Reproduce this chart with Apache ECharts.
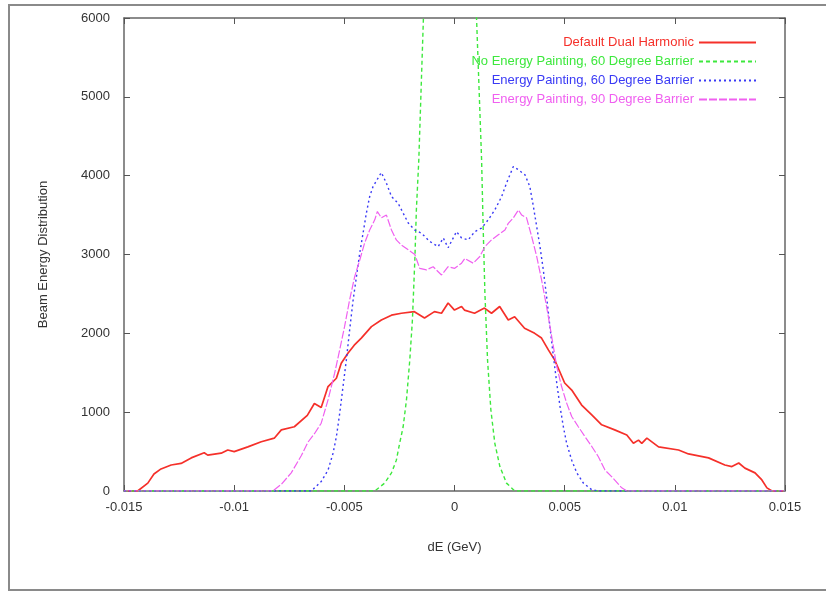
<!DOCTYPE html>
<html><head><meta charset="utf-8">
<script src="https://cdn.jsdelivr.net/npm/echarts@6/dist/echarts.min.js"></script>
<style>html,body{margin:0;padding:0;background:#fff}#c{width:826px;height:597px}</style>
</head><body><div id="c"></div>
<script>
const seriesNames = ["Default Dual Harmonic","No Energy Painting, 60 Degree Barrier","Energy Painting, 60 Degree Barrier","Energy Painting, 90 Degree Barrier"];
const xTicks = [-0.015,-0.01,-0.005,0,0.005,0.01,0.015];
const yTicks = [0,1000,2000,3000,4000,5000,6000];

const defaultDual = [
[-0.015,0],[-0.01438,0],[-0.01392,100],[-0.01364,215],[-0.01332,280],[-0.01286,330],[-0.01241,350],
[-0.01195,420],[-0.01136,485],[-0.01120,455],[-0.01059,480],[-0.01029,520],[-0.01000,500],[-0.00938,560],
[-0.00877,625],[-0.00818,670],[-0.00786,775],[-0.00727,815],[-0.00668,960],[-0.00636,1110],[-0.00605,1060],
[-0.00574,1325],[-0.00536,1430],[-0.00514,1620],[-0.00483,1750],[-0.00455,1850],[-0.00423,1940],[-0.00377,2085],
[-0.00332,2170],[-0.00286,2230],[-0.00241,2255],[-0.00182,2275],[-0.00136,2195],[-0.00091,2275],[-0.00059,2255],
[-0.00029,2385],[0,2295],[0.00032,2340],[0.00045,2295],[0.00091,2255],[0.00136,2320],[0.00168,2255],[0.00205,2340],
[0.00244,2170],[0.00273,2210],[0.00318,2065],[0.00364,2000],[0.00395,1940],[0.00426,1790],[0.00455,1660],
[0.00500,1370],[0.00532,1280],[0.00577,1090],[0.00623,965],[0.00668,840],[0.00727,775],[0.00782,710],
[0.00812,605],[0.00835,645],[0.00850,605],[0.00873,670],[0.00926,560],[0.01017,520],[0.01062,470],
[0.01153,420],[0.01227,330],[0.01259,310],[0.01290,355],[0.01318,290],[0.01364,230],[0.01395,140],
[0.01418,40],[0.01441,0],[0.015,0]
];
const noPainting60 = [
[-0.015,0],[-0.00362,0],[-0.00317,100],[-0.00286,230],[-0.00264,390],[-0.00249,605],[-0.00233,815],
[-0.00218,1155],[-0.00203,1660],[-0.00191,2170],[-0.00180,2930],[-0.00173,3570],[-0.00162,4200],
[-0.00141,6000],[-0.00114,8000],[-0.00059,9000],[0,9200],[0.00059,9000],[0.00077,8000],[0.00100,6000],
[0.00123,4200],[0.00130,3355],[0.00138,2510],[0.00150,1660],[0.00165,1030],[0.00183,605],[0.00206,310],
[0.00236,100],[0.00274,0],[0.015,0]
];
const painting60 = [
[-0.015,0],[-0.0065,0],[-0.00635,40],[-0.00605,120],[-0.00574,265],[-0.00551,480],[-0.00536,690],
[-0.00521,985],[-0.00506,1325],[-0.00491,1660],[-0.00476,2040],[-0.00460,2425],[-0.00445,2720],
[-0.00430,3020],[-0.00415,3270],[-0.00400,3525],[-0.00385,3735],[-0.00370,3860],[-0.00347,3970],
[-0.00332,4040],[-0.00309,3905],[-0.00286,3735],[-0.00256,3650],[-0.00233,3525],[-0.00210,3400],
[-0.00180,3310],[-0.00150,3270],[-0.00112,3165],[-0.00074,3100],[-0.00051,3210],[-0.00029,3085],
[0.00009,3290],[0.00032,3210],[0.00062,3185],[0.00092,3290],[0.00123,3335],[0.00153,3440],[0.00183,3565],
[0.00214,3735],[0.00236,3905],[0.00267,4115],[0.00290,4075],[0.00320,4010],[0.00342,3860],[0.00358,3610],
[0.00373,3355],[0.00388,3100],[0.00403,2805],[0.00418,2465],[0.00433,2085],[0.00449,1705],[0.00464,1370],
[0.00479,1070],[0.00494,815],[0.00509,605],[0.00532,390],[0.00555,230],[0.00585,100],[0.00623,15],
[0.00653,0],[0.015,0]
];
const painting90 = [
[-0.015,0],[-0.00824,0],[-0.00786,85],[-0.00741,230],[-0.00695,450],[-0.00665,620],[-0.00635,730],
[-0.00605,860],[-0.00574,1155],[-0.00544,1495],[-0.00521,1790],[-0.00499,2085],[-0.00476,2425],
[-0.00453,2720],[-0.00430,2930],[-0.00408,3145],[-0.00385,3310],[-0.00362,3440],[-0.00350,3545],
[-0.00332,3465],[-0.00309,3500],[-0.00286,3310],[-0.00264,3185],[-0.00241,3120],[-0.00210,3060],
[-0.00180,3000],[-0.00158,2825],[-0.00127,2805],[-0.00097,2845],[-0.00059,2740],[-0.00029,2845],
[0.00001,2825],[0.00032,2890],[0.00047,2950],[0.00085,2890],[0.00115,2975],[0.00138,3100],[0.00168,3185],
[0.00199,3250],[0.00229,3310],[0.00244,3395],[0.00267,3465],[0.00290,3565],[0.00305,3500],[0.00327,3465],
[0.00350,3230],[0.00373,2975],[0.00395,2680],[0.00418,2340],[0.00441,1960],[0.00464,1580],[0.00486,1325],
[0.00509,1115],[0.00532,945],[0.00562,815],[0.00592,690],[0.00623,565],[0.00653,435],[0.00683,265],
[0.00714,180],[0.00759,40],[0.00782,0],[0.015,0]
];

const colors = ['#f5302a','#3de83d','#3a3af5','#f060f0'];
const chart = echarts.init(document.getElementById('c'), null, {renderer:'canvas'});
const font = 'Liberation Sans, Arial, sans-serif';
const axisCommon = {
  min: xTicks[0], max: xTicks[xTicks.length-1], interval: 0.005,
};
const fmtX = v => { const r = Math.round(v*1000)/1000; return String(r); };
const fmtY = v => String(Math.round(v));
chart.setOption({
  backgroundColor:'#fff',
  animation:false,
  graphic:[{type:'rect', shape:{x:9,y:5,width:900,height:585}, style:{fill:'none', stroke:'#8a8a8a', lineWidth:2}, z:-1}],
  grid:{left:124, right:41, top:18, bottom:106},
  legend:{
    orient:'vertical', right:64, top:31, align:'right',
    itemWidth:57, itemHeight:14, itemGap:6, itemTextGap:10,
    itemStyle:{opacity:0},
    textStyle:{fontFamily:font, fontSize:13},
    data: seriesNames.map((n,i)=>({name:n, textStyle:{color:colors[i]}}))
  },
  xAxis:[
    {type:'value', ...axisCommon, position:'bottom',
     name:'dE (GeV)', nameLocation:'middle', nameGap:50,
     nameTextStyle:{fontFamily:font, fontSize:13, color:'#333'},
     axisLine:{show:true, onZero:false, lineStyle:{color:'#666', width:1.5}},
     axisTick:{show:true, inside:true, length:6, lineStyle:{color:'#555'}},
     axisLabel:{fontFamily:font, fontSize:13, color:'#333', margin:10, formatter:fmtX},
     splitLine:{show:false}},
    {type:'value', ...axisCommon, position:'top',
     axisLine:{show:true, onZero:false, lineStyle:{color:'#666', width:1.5}},
     axisTick:{show:true, inside:true, length:6, lineStyle:{color:'#555'}},
     axisLabel:{show:false}, splitLine:{show:false}}
  ],
  yAxis:[
    {type:'value', min:yTicks[0], max:yTicks[yTicks.length-1], interval:1000, position:'left',
     name:'Beam Energy Distribution', nameLocation:'middle', nameGap:74, nameRotate:90,
     nameTextStyle:{fontFamily:font, fontSize:13, color:'#333'},
     axisLine:{show:true, onZero:false, lineStyle:{color:'#666', width:1.5}},
     axisTick:{show:true, inside:true, length:6, lineStyle:{color:'#555'}},
     axisLabel:{fontFamily:font, fontSize:13, color:'#333', margin:14, formatter:fmtY},
     splitLine:{show:false}},
    {type:'value', min:yTicks[0], max:yTicks[yTicks.length-1], interval:1000, position:'right',
     axisLine:{show:true, onZero:false, lineStyle:{color:'#666', width:1.5}},
     axisTick:{show:true, inside:true, length:6, lineStyle:{color:'#555'}},
     axisLabel:{show:false}, splitLine:{show:false}}
  ],
  series:[
    {name:seriesNames[0], type:'line', data:defaultDual, showSymbol:false, symbol:'none', symbolSize:0, clip:true,
     lineStyle:{color:colors[0], width:1.7, type:'solid'}, itemStyle:{color:colors[0]}},
    {name:seriesNames[1], type:'line', data:noPainting60, showSymbol:false, symbol:'none', symbolSize:0, clip:true,
     lineStyle:{color:colors[1], width:1.4, type:[4,3]}, itemStyle:{color:colors[1]}},
    {name:seriesNames[2], type:'line', data:painting60, showSymbol:false, symbol:'none', symbolSize:0, clip:true,
     lineStyle:{color:colors[2], width:1.4, type:[2,3]}, itemStyle:{color:colors[2]}},
    {name:seriesNames[3], type:'line', data:painting90, showSymbol:false, symbol:'none', symbolSize:0, clip:true,
     lineStyle:{color:colors[3], width:1.2, type:[8,2]}, itemStyle:{color:colors[3]}}
  ]
});
</script></body></html>
